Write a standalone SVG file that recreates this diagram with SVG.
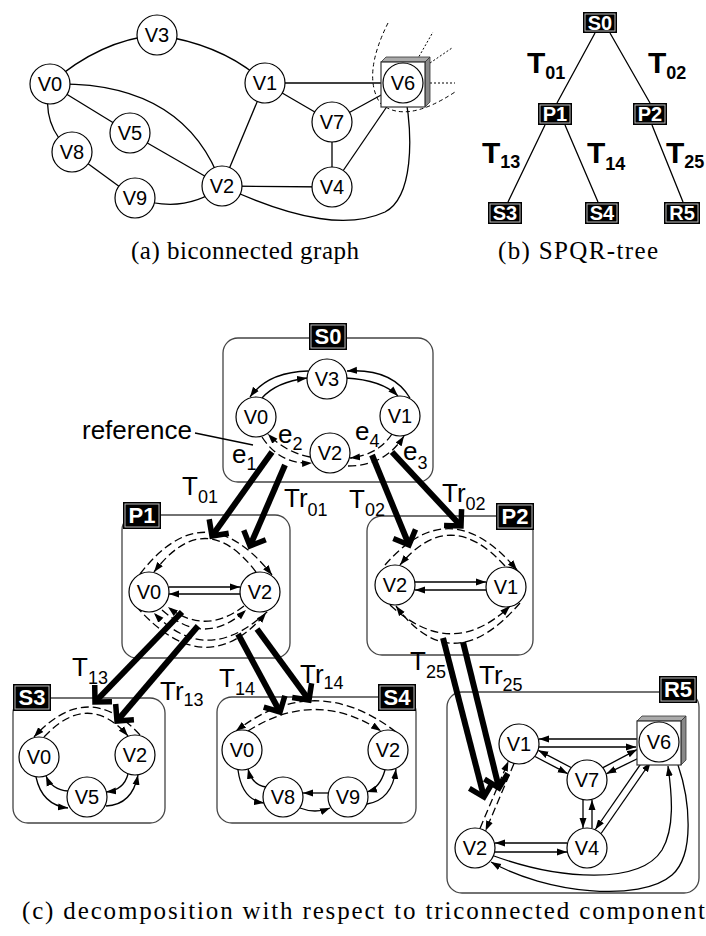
<svg xmlns="http://www.w3.org/2000/svg" width="706" height="936" viewBox="0 0 706 936">
<style>
.n circle{fill:#fff;stroke:#000;stroke-width:1.2}
.n text{font-family:"Liberation Sans",Arial,sans-serif;font-size:20px;text-anchor:middle;fill:#000}
.e{fill:none;stroke:#000;stroke-width:1.3}
.d{fill:none;stroke:#000;stroke-width:1.3;stroke-dasharray:8 4}
.a{marker-end:url(#ah)}
.th{fill:none;stroke:#000;stroke-width:6;marker-end:url(#th)}
.cont{fill:none;stroke:#444;stroke-width:1.3}
.lb{fill:#000}
.lbi{fill:none;stroke:#bbb;stroke-width:1}
.lt{font-family:"Liberation Sans",Arial,sans-serif;font-weight:bold;font-size:22px;fill:#fff;text-anchor:middle}
.lt2{font-family:"Liberation Sans",Arial,sans-serif;font-weight:bold;font-size:20px;fill:#fff;text-anchor:middle}
.tl{font-family:"Liberation Sans",Arial,sans-serif;font-size:26px;fill:#000}
.tb{font-family:"Liberation Sans",Arial,sans-serif;font-size:30px;font-weight:bold;fill:#000}
.cap{font-family:"Liberation Serif","Times New Roman",serif;font-size:25px;fill:#000}
.box{fill:#fff;stroke:#333;stroke-width:1.2}
.f1{fill:#aaa;stroke:#333;stroke-width:0.8}
.f2{fill:#888;stroke:#333;stroke-width:0.8}
</style>
<defs>
<marker id="ah" viewBox="0 0 10 8" refX="10" refY="4" markerWidth="10" markerHeight="8" markerUnits="userSpaceOnUse" orient="auto"><path d="M0,0.5 L10,4 L0,7.5z" fill="#000"/></marker>
<marker id="th" viewBox="-16 -16 20 32" refX="0" refY="0" markerWidth="20" markerHeight="32" markerUnits="userSpaceOnUse" orient="auto"><path d="M-12,-12 L0,0 L-12,12" fill="none" stroke="#000" stroke-width="5.5"/></marker>
</defs>

<!-- (a) biconnected graph -->
<g id="a-connectors">
<path class="e" d="M50,84 Q100,40 157,35"/>
<path class="e" d="M157,35 Q225,45 265,83"/>
<path class="e" d="M50,84 Q185,80 222,186"/>
<path class="e" d="M50,84 L130,133"/>
<path class="e" d="M50,84 Q40,125 72,152"/>
<path class="e" d="M72,152 L135,198"/>
<path class="e" d="M135,198 Q185,215 222,186"/>
<path class="e" d="M130,133 L222,186"/>
<path class="e" d="M265,83 L222,186"/>
<path class="e" d="M265,83 L403,83"/>
<path class="e" d="M265,83 L332,122"/>
<path class="e" d="M332,122 L403,83"/>
<path class="e" d="M332,122 L332,187"/>
<path class="e" d="M332,187 L403,83"/>
<path class="e" d="M222,186 L332,187"/>
<path class="e" d="M222,186 C300,222 350,228 385,212 C412,198 415,140 403,83"/>
<path fill="none" stroke="#000" stroke-width="1" stroke-dasharray="4 3" d="M388,23 Q362,75 380,103 Q405,125 455,92"/>
<path fill="none" stroke="#000" stroke-width="1" stroke-dasharray="2 2" d="M417,60 L433,32 M430,63 L452,48 M430,83 L455,83"/>
</g>
<g id="a-V0" class="n"><circle cx="50" cy="84" r="20"/><text x="50" y="91">V0</text></g>
<g id="a-V3" class="n"><circle cx="157" cy="35" r="20"/><text x="157" y="42">V3</text></g>
<g id="a-V1" class="n"><circle cx="265" cy="83" r="20"/><text x="265" y="90">V1</text></g>
<g id="a-V7" class="n"><circle cx="332" cy="122" r="20"/><text x="332" y="129">V7</text></g>
<g id="a-V5" class="n"><circle cx="130" cy="133" r="20"/><text x="130" y="140">V5</text></g>
<g id="a-V8" class="n"><circle cx="72" cy="152" r="20"/><text x="72" y="159">V8</text></g>
<g id="a-V9" class="n"><circle cx="135" cy="198" r="20"/><text x="135" y="205">V9</text></g>
<g id="a-V2" class="n"><circle cx="222" cy="186" r="20"/><text x="222" y="193">V2</text></g>
<g id="a-V4" class="n"><circle cx="332" cy="187" r="20"/><text x="332" y="194">V4</text></g>
<g id="a-V6" class="n">
<polygon class="f1" points="381,62 386,57 430,57 425,62"/>
<polygon class="f2" points="425,62 430,57 430,102 425,107"/>
<rect class="box" x="381" y="62" width="44" height="45"/>
<circle cx="403" cy="83" r="20"/><text x="403" y="90">V6</text></g>
<text class="cap" x="131" y="259" textLength="228">(a) biconnected graph</text>

<!-- (b) SPQR-tree -->
<g id="b-connectors">
<path class="e" d="M595,33 L557,103 M610,33 L650,103 M545,125 L508,202 M565,125 L598,202 M652,125 L683,202"/>
</g>
<g id="b-S0"><rect class="lb" x="583" y="12" width="34" height="21"/><rect class="lbi" x="585" y="14" width="30" height="17"/><text class="lt2" x="600" y="30">S0</text></g>
<g id="b-P1"><rect class="lb" x="538" y="103" width="34" height="22"/><rect class="lbi" x="540" y="105" width="30" height="18"/><text class="lt2" x="555" y="121">P1</text></g>
<g id="b-P2"><rect class="lb" x="633" y="103" width="34" height="22"/><rect class="lbi" x="635" y="105" width="30" height="18"/><text class="lt2" x="650" y="121">P2</text></g>
<g id="b-S3"><rect class="lb" x="488" y="202" width="34" height="22"/><rect class="lbi" x="490" y="204" width="30" height="18"/><text class="lt2" x="505" y="220">S3</text></g>
<g id="b-S4"><rect class="lb" x="585" y="202" width="34" height="22"/><rect class="lbi" x="587" y="204" width="30" height="18"/><text class="lt2" x="602" y="220">S4</text></g>
<g id="b-R5"><rect class="lb" x="664" y="202" width="36" height="22"/><rect class="lbi" x="666" y="204" width="32" height="18"/><text class="lt2" x="682" y="220">R5</text></g>
<text class="tb" x="527" y="73">T<tspan dy="6" font-size="18">01</tspan></text>
<text class="tb" x="648" y="73">T<tspan dy="6" font-size="18">02</tspan></text>
<text class="tb" x="482" y="163">T<tspan dy="5" font-size="18">13</tspan></text>
<text class="tb" x="587" y="163">T<tspan dy="7" font-size="18">14</tspan></text>
<text class="tb" x="666" y="163">T<tspan dy="5" font-size="18">25</tspan></text>
<text class="cap" x="498" y="259" textLength="160">(b) SPQR-tree</text>

<!-- (c) decomposition -->
<g id="c-S0"><rect class="cont" x="223" y="338" width="210" height="144" rx="15"/><rect class="lb" x="309" y="323" width="38" height="27"/><rect class="lbi" x="311" y="325" width="34" height="23"/><text class="lt" x="328" y="344">S0</text></g>
<g id="c-P1"><rect class="cont" x="122" y="515" width="168" height="143" rx="15"/><rect class="lb" x="123" y="502" width="38" height="27"/><rect class="lbi" x="125" y="504" width="34" height="23"/><text class="lt" x="142" y="523">P1</text></g>
<g id="c-P2"><rect class="cont" x="367" y="516" width="166" height="139" rx="15"/><rect class="lb" x="496" y="503" width="38" height="27"/><rect class="lbi" x="498" y="505" width="34" height="23"/><text class="lt" x="515" y="524">P2</text></g>
<g id="c-S3"><rect class="cont" x="13" y="698" width="152" height="125" rx="15"/><rect class="lb" x="13" y="684" width="38" height="27"/><rect class="lbi" x="15" y="686" width="34" height="23"/><text class="lt" x="32" y="705">S3</text></g>
<g id="c-S4"><rect class="cont" x="217" y="697" width="199" height="126" rx="15"/><rect class="lb" x="378" y="684" width="38" height="27"/><rect class="lbi" x="380" y="686" width="34" height="23"/><text class="lt" x="397" y="705">S4</text></g>
<g id="c-R5"><rect class="cont" x="447" y="692" width="252" height="201" rx="15"/><rect class="lb" x="659" y="676" width="38" height="27"/><rect class="lbi" x="661" y="678" width="34" height="23"/><text class="lt" x="678" y="697">R5</text></g>

<g id="c-connectors">
<!-- S0 -->
<path class="e a" d="M308,371 Q268,372 250,397"/>
<path class="e a" d="M262,398 Q276,382 307,378"/>
<path class="e a" d="M410,398 Q392,368 347,371"/>
<path class="e a" d="M346,378 Q382,380 398,396"/>
<path class="d a" d="M310,457 Q285,452 268,434"/>
<path class="d a" d="M262,437 Q280,465 312,463"/>
<path class="d a" d="M392,434 Q378,455 350,458"/>
<path class="d a" d="M348,466 Q385,466 404,436"/>
<path class="e" d="M195,433 L253,445"/>
<!-- P1 -->
<path class="e a" d="M169,587 L240,587"/>
<path class="e a" d="M240,594 L169,594"/>
<path class="d a" d="M140,574 Q205,490 272,575"/>
<path class="d a" d="M256,572 Q205,505 154,572"/>
<path class="d a" d="M244,606 Q205,636 168,607"/>
<path class="d a" d="M162,610 Q205,648 246,610"/>
<path class="d a" d="M276,603 Q210,672 154,613"/>
<path class="d a" d="M136,606 Q205,685 266,613"/>
<!-- P2 -->
<path class="e a" d="M415,582 L486,582"/>
<path class="e a" d="M486,590 L415,590"/>
<path class="d a" d="M385,565 Q450,490 517,570"/>
<path class="d a" d="M505,566 Q450,505 400,565"/>
<path class="d a" d="M520,603 Q452,682 396,606"/>
<path class="d a" d="M390,605 Q452,662 510,606"/>
<!-- S3 -->
<path class="d a" d="M140,735 Q88,678 34,737"/>
<path class="d a" d="M44,737 Q88,690 128,736"/>
<path class="e a" d="M36,777 Q42,805 68,808"/>
<path class="e a" d="M68,791 Q52,790 46,776"/>
<path class="e a" d="M106,806 Q132,805 138,775"/>
<path class="e a" d="M128,774 Q124,790 106,792"/>
<!-- S4 -->
<path class="d a" d="M396,732 Q315,670 236,731"/>
<path class="d a" d="M248,731 Q315,688 381,731"/>
<path class="e a" d="M238,770 Q242,800 264,803"/>
<path class="e a" d="M266,787 Q252,785 248,769"/>
<path class="e a" d="M328,793 L303,793"/>
<path class="e a" d="M300,808 Q315,814 330,808"/>
<path class="e a" d="M367,804 Q392,800 396,769"/>
<path class="e a" d="M385,770 Q380,788 367,792"/>
<!-- R5 -->
<path class="e a" d="M637,739 L539,739"/>
<path class="e a" d="M539,747 L636,747"/>
<path class="e a" d="M571,767.5 L538.3,750.3"/>
<path class="e a" d="M535,756.5 L567.7,773.7"/>
<path class="e a" d="M603,767.6 L637,749.6"/>
<path class="e a" d="M643,756 L606.3,773.8"/>
<path class="e a" d="M583,800 L583,828"/>
<path class="e a" d="M592,828 L592,800"/>
<path class="e a" d="M644.9,758 L595.3,829.5"/>
<path class="e a" d="M601.1,833.5 L650.7,762"/>
<path class="e a" d="M567,843 L495,843"/>
<path class="e a" d="M495,852 L567,852"/>
<path class="e a" d="M494,856 C560,880 640,885 662,850 C675,828 672,795 668,766"/>
<path class="e a" d="M678,765 C690,800 695,855 672,875 C640,903 545,893 491,862"/>
<path class="d a" d="M480,828.4 L508.4,761.2"/>
<path class="d a" d="M514,763.6 L485.6,830.8"/>
<!-- thick tree-edge arrows -->
<path class="th" d="M272,452 L212,536"/>
<path class="th" d="M285,465 L250,546"/>
<path class="th" d="M372,455 L409,545"/>
<path class="th" d="M392,452 L461,526"/>
<path class="th" d="M182,612 L95,702"/>
<path class="th" d="M198,626 L117,721"/>
<path class="th" d="M238,634 L280,712"/>
<path class="th" d="M257,629 L309,700"/>
<path class="th" d="M443,638 L484,797"/>
<path class="th" d="M463,642 L499,788"/>
</g>

<!-- (c) nodes -->
<g id="c-S0-V3" class="n"><circle cx="327" cy="379" r="20"/><text x="327" y="386">V3</text></g>
<g id="c-S0-V0" class="n"><circle cx="256" cy="417" r="20"/><text x="256" y="424">V0</text></g>
<g id="c-S0-V1" class="n"><circle cx="400" cy="416" r="20"/><text x="400" y="423">V1</text></g>
<g id="c-S0-V2" class="n"><circle cx="330" cy="453" r="20"/><text x="330" y="460">V2</text></g>
<g id="c-P1-V0" class="n"><circle cx="149" cy="592" r="20"/><text x="149" y="599">V0</text></g>
<g id="c-P1-V2" class="n"><circle cx="260" cy="592" r="20"/><text x="260" y="599">V2</text></g>
<g id="c-P2-V2" class="n"><circle cx="395" cy="585" r="20"/><text x="395" y="592">V2</text></g>
<g id="c-P2-V1" class="n"><circle cx="506" cy="587" r="20"/><text x="506" y="594">V1</text></g>
<g id="c-S3-V0" class="n"><circle cx="39" cy="757" r="20"/><text x="39" y="764">V0</text></g>
<g id="c-S3-V2" class="n"><circle cx="135" cy="755" r="20"/><text x="135" y="762">V2</text></g>
<g id="c-S3-V5" class="n"><circle cx="87" cy="797" r="20"/><text x="87" y="804">V5</text></g>
<g id="c-S4-V0" class="n"><circle cx="242" cy="750" r="20"/><text x="242" y="757">V0</text></g>
<g id="c-S4-V2" class="n"><circle cx="388" cy="750" r="20"/><text x="388" y="757">V2</text></g>
<g id="c-S4-V8" class="n"><circle cx="283" cy="797" r="20"/><text x="283" y="804">V8</text></g>
<g id="c-S4-V9" class="n"><circle cx="348" cy="797" r="20"/><text x="348" y="804">V9</text></g>
<g id="c-R5-V1" class="n"><circle cx="519" cy="744" r="20"/><text x="519" y="751">V1</text></g>
<g id="c-R5-V7" class="n"><circle cx="587" cy="780" r="20"/><text x="587" y="787">V7</text></g>
<g id="c-R5-V2" class="n"><circle cx="475" cy="848" r="20"/><text x="475" y="855">V2</text></g>
<g id="c-R5-V4" class="n"><circle cx="587" cy="848" r="20"/><text x="587" y="855">V4</text></g>
<g id="c-R5-V6" class="n">
<polygon class="f1" points="637,721 642,716 686,716 681,721"/>
<polygon class="f2" points="681,721 686,716 686,760 681,765"/>
<rect class="box" x="637" y="721" width="44" height="44"/>
<circle cx="659" cy="742" r="20"/><text x="659" y="749">V6</text></g>

<!-- (c) labels -->
<text class="tl" x="82" y="439">reference</text>
<text class="tl" x="232" y="463">e<tspan dy="7" font-size="18">1</tspan></text>
<text class="tl" x="278" y="443">e<tspan dy="7" font-size="18">2</tspan></text>
<text class="tl" x="355" y="440">e<tspan dy="7" font-size="18">4</tspan></text>
<text class="tl" x="403" y="460">e<tspan dy="9" font-size="18">3</tspan></text>
<text class="tl" x="182" y="495">T<tspan dy="8" font-size="18">01</tspan></text>
<text class="tl" x="284" y="507">Tr<tspan dy="9" font-size="18">01</tspan></text>
<text class="tl" x="349" y="508">T<tspan dy="8" font-size="18">02</tspan></text>
<text class="tl" x="442" y="502">Tr<tspan dy="8" font-size="18">02</tspan></text>
<text class="tl" x="72" y="676">T<tspan dy="8" font-size="18">13</tspan></text>
<text class="tl" x="160" y="700">Tr<tspan dy="6" font-size="18">13</tspan></text>
<text class="tl" x="219" y="687">T<tspan dy="8" font-size="18">14</tspan></text>
<text class="tl" x="300" y="683">Tr<tspan dy="6" font-size="18">14</tspan></text>
<text class="tl" x="410" y="670">T<tspan dy="8" font-size="18">25</tspan></text>
<text class="tl" x="479" y="684">Tr<tspan dy="7" font-size="18">25</tspan></text>
<text class="cap" x="22" y="919" textLength="683">(c) decomposition with respect to triconnected component</text>
</svg>
